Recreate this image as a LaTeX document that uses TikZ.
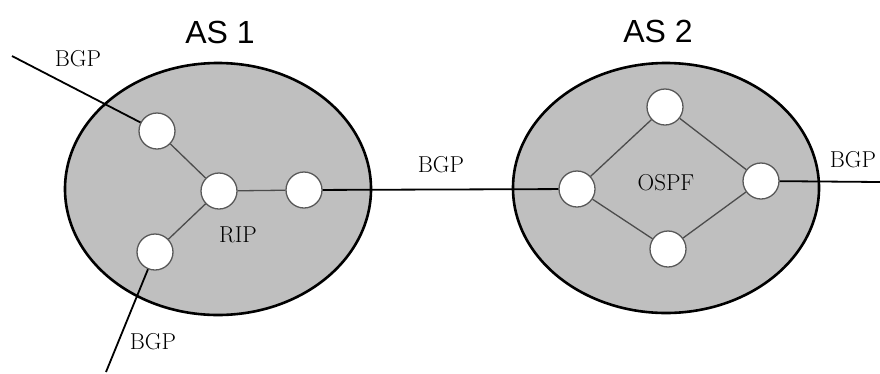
\documentclass[tikz,border=0pt]{standalone}
\usepackage{fontspec}
\newfontfamily\assans{Liberation Sans}
\usetikzlibrary{shapes.geometric}
\tikzset{
  asbox/.style={draw=black, line width=2.6pt, fill=black!25},
  router/.style={circle, draw=black!65, line width=1.3pt, fill=white, minimum size=36pt, inner sep=0pt},
  inlink/.style={draw=black!70, line width=1.3pt},
  extlink/.style={draw=black, line width=1.8pt},
  proto/.style={font=\fontsize{23}{25}\selectfont, inner sep=0pt},
  astitle/.style={font=\assans\fontsize{32}{34}\selectfont, inner sep=0pt}
}
\begin{document}
\begin{tikzpicture}[x=1pt,y=-1pt]
\useasboundingbox (0,0) rectangle (880,373);
% autonomous systems
\draw[asbox] (218,189) ellipse[x radius=153, y radius=126];
\draw[asbox] (666,188) ellipse[x radius=153, y radius=125];
\node[astitle] (t1) at (220,32) {AS 1};
\node[astitle] (t2) at (658,31) {AS 2};
% AS1 routers
\node[router] (a1) at (157,131) {};
\node[router] (a2) at (219,191) {};
\node[router] (a3) at (304,190) {};
\node[router] (a4) at (155,252) {};
% AS2 routers
\node[router] (b1) at (665,107) {};
\node[router] (b2) at (577,189) {};
\node[router] (b3) at (761,181) {};
\node[router] (b4) at (668,249) {};
% free ends
\coordinate (e1) at (12,56);
\coordinate (e2) at (106,372);
\coordinate (e3) at (880,182);
% internal links
\draw[inlink] (a1) -- (a2);
\draw[inlink] (a4) -- (a2);
\draw[inlink] (a2) -- (a3);
\draw[inlink] (b2) -- (b1);
\draw[inlink] (b1) -- (b3);
\draw[inlink] (b3) -- (b4);
\draw[inlink] (b4) -- (b2);
% external links
\draw[extlink] (e1) -- (a1);
\draw[extlink] (e2) -- (a4);
\draw[extlink] (a3) -- (b2);
\draw[extlink] (b3) -- (e3);
% labels
\node[proto] (l1) at (78,59) {BGP};
\node[proto] (l2) at (153,342) {BGP};
\node[proto] (l3) at (441,165) {BGP};
\node[proto] (l4) at (853,160) {BGP};
\node[proto] (l5) at (238,235) {RIP};
\node[proto] (l6) at (666,183) {OSPF};
\end{tikzpicture}
\end{document}
